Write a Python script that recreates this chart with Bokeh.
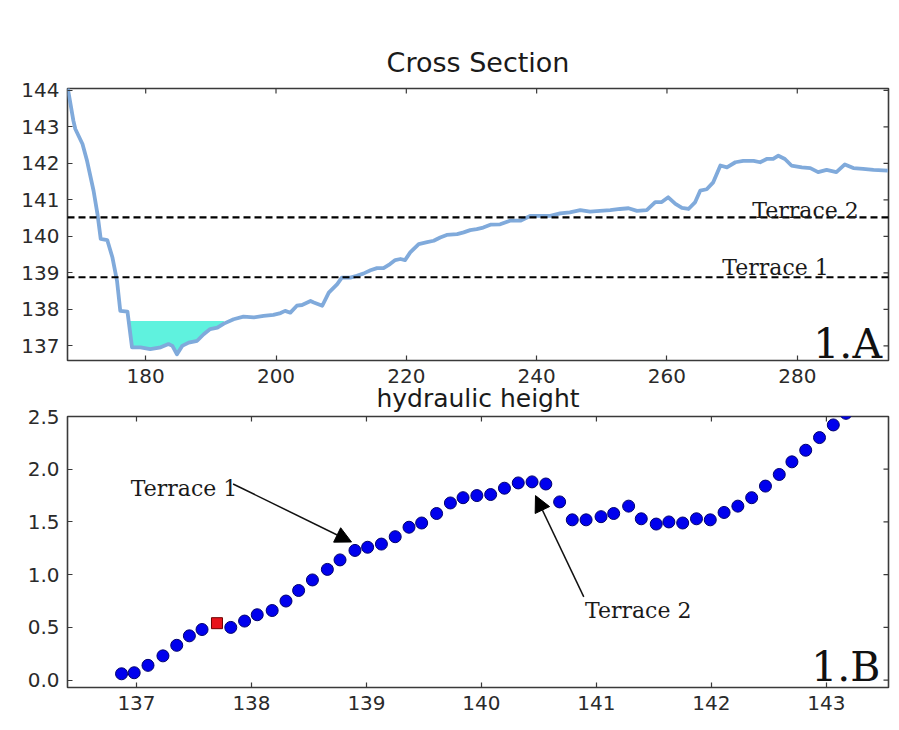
from bokeh.plotting import figure
from bokeh.models import (Range1d, FixedTicker, Span, Label, Arrow,
                          NormalHead, PrintfTickFormatter)
from bokeh.layouts import column
from bokeh.embed import file_html
from bokeh.resources import INLINE
import numpy as np

# ---------------- data ----------------
# Cross section profile (distance, elevation)
cs_x = [168.0, 168.9, 169.2, 170.3, 171.0, 172.0, 172.6, 173.1, 174.1, 174.9, 175.6, 176.1,
        177.2, 177.9, 179.2, 180.7, 182.3, 183.5, 184.1, 184.8, 185.6, 186.6, 187.9, 188.9,
        189.9, 191.0, 192.0, 193.5, 195.0, 196.6, 198.1, 199.6, 200.7, 201.4, 202.2, 203.2,
        204.0, 205.3, 205.8, 207.1, 208.1, 209.4, 210.1, 211.4, 212.4, 213.4, 214.5, 215.5,
        216.5, 217.5, 218.3, 219.1, 219.8, 220.6, 221.9, 223.2, 224.2, 225.2, 226.2, 227.8,
        228.8, 229.8, 230.8, 231.8, 232.9, 234.4, 235.9, 237.5, 239.0, 240.5, 242.1, 243.6,
        245.1, 246.7, 248.2, 249.7, 251.3, 252.8, 254.1, 255.4, 256.9, 258.2, 259.2, 260.2,
        261.3, 262.3, 263.3, 264.3, 265.1, 266.1, 267.1, 268.2, 269.2, 270.5, 271.7, 273.3,
        274.3, 275.3, 276.3, 277.1, 278.1, 279.1, 280.7, 282.0, 283.2, 284.5, 286.0, 287.3,
        288.6, 290.1, 291.7, 293.9]
cs_y = [144.10, 143.17, 142.94, 142.53, 142.07, 141.25, 140.61, 139.93, 139.90, 139.42, 138.78, 137.96,
        137.94, 136.96, 136.96, 136.91, 136.96, 137.05, 137.00, 136.77, 137.00, 137.09, 137.14, 137.32,
        137.46, 137.50, 137.61, 137.73, 137.80, 137.78, 137.82, 137.85, 137.90, 137.96, 137.91, 138.10,
        138.12, 138.23, 138.19, 138.10, 138.46, 138.69, 138.87, 138.87, 138.92, 138.98, 139.07, 139.13,
        139.13, 139.24, 139.35, 139.38, 139.35, 139.56, 139.79, 139.84, 139.88, 139.97, 140.04, 140.06,
        140.11, 140.17, 140.20, 140.24, 140.32, 140.33, 140.43, 140.43, 140.56, 140.56, 140.56, 140.63,
        140.66, 140.72, 140.68, 140.70, 140.72, 140.75, 140.77, 140.70, 140.72, 140.94, 140.94, 141.07,
        140.89, 140.78, 140.75, 140.93, 141.25, 141.29, 141.48, 141.94, 141.89, 142.03, 142.07, 142.07,
        142.03, 142.12, 142.12, 142.21, 142.12, 141.94, 141.89, 141.87, 141.76, 141.82, 141.76, 141.97,
        141.87, 141.85, 141.82, 141.80]
water_level = 137.68
water_x_min, water_x_max = 177.0, 193.0
terrace_levels = [138.88, 140.52]
terrace_names = ["Terrace 1", "Terrace 2"]
terrace_label_x = [268.5, 273.1]
terrace_label_y = [139.15, 140.70]

# Hydraulic height vs water level
hh_x = [136.87, 136.98, 137.10, 137.23, 137.35, 137.46, 137.57, 137.82, 137.94, 138.05, 138.18,
        138.30, 138.41, 138.53, 138.66, 138.77, 138.90, 139.01, 139.13, 139.25, 139.37, 139.48,
        139.61, 139.73, 139.84, 139.96, 140.08, 140.20, 140.32, 140.44, 140.56, 140.68, 140.79,
        140.91, 141.04, 141.15, 141.28, 141.39, 141.52, 141.63, 141.75, 141.87, 141.99, 142.11,
        142.23, 142.35, 142.47, 142.59, 142.70, 142.82, 142.94, 143.06, 143.17]
hh_y = [0.06, 0.07, 0.14, 0.23, 0.33, 0.42, 0.48, 0.50, 0.56, 0.62, 0.66,
        0.75, 0.85, 0.95, 1.05, 1.14, 1.23, 1.26, 1.29, 1.36, 1.45, 1.49,
        1.58, 1.68, 1.73, 1.75, 1.76, 1.82, 1.87, 1.88, 1.86, 1.69, 1.52,
        1.52, 1.55, 1.58, 1.65, 1.53, 1.48, 1.50, 1.49, 1.53, 1.52, 1.59,
        1.65, 1.73, 1.84, 1.95, 2.07, 2.18, 2.30, 2.42, 2.53]
current_x = [137.70]
current_y = [0.54]

# annotations in the lower panel: (text x, text y, arrow start x, y, arrow tip x, y)
ann1 = dict(text="Terrace 1", tx=136.95, ty=1.82, x0=137.84, y0=1.86, x1=138.87, y1=1.31)
ann2 = dict(text="Terrace 2", tx=140.90, ty=0.66, x0=140.89, y0=0.79, x1=140.47, y1=1.75)

# ticks
top_xticks = [180, 200, 220, 240, 260, 280]
top_yticks = [137, 138, 139, 140, 141, 142, 143, 144]
bot_xticks = [137, 138, 139, 140, 141, 142, 143]
bot_yticks = [0.0, 0.5, 1.0, 1.5, 2.0, 2.5]

SANS = "DejaVu Sans"
SERIF = "DejaVu Serif"
TICK_COLOR = "#3a3a3a"
W = 897


def style_axes(p, xticks, yticks, xr, yr, yfmt=None):
    for ax in p.axis:
        ax.major_tick_in = 5
        ax.major_tick_out = 0
        ax.minor_tick_line_color = None
        ax.major_tick_line_color = TICK_COLOR
        ax.major_tick_line_width = 1.2
        ax.axis_line_color = None
        ax.major_label_text_font = SANS
        ax.major_label_text_font_size = "20px"
        ax.major_label_text_color = "#2a2a2a"
        ax.major_label_standoff = 8
    p.xaxis.ticker = FixedTicker(ticks=xticks)
    p.yaxis.ticker = FixedTicker(ticks=yticks)
    if yfmt:
        p.yaxis.formatter = PrintfTickFormatter(format=yfmt)
    # mirrored inward ticks on the top and right edges of the frame
    p.ray(x=xticks, y=[yr[1]] * len(xticks), length=5, length_units="screen",
          angle=-np.pi / 2, line_color=TICK_COLOR, line_width=1.2)
    p.ray(x=[xr[1]] * len(yticks), y=yticks, length=5, length_units="screen",
          angle=np.pi, line_color=TICK_COLOR, line_width=1.2)
    p.outline_line_color = "#3a3a3a"
    p.outline_line_width = 1.6
    p.grid.visible = False


# ---------------- top: cross section ----------------
top_xr = (168, 294)
top_yr = (136.6, 144.05)
p1 = figure(width=W, height=392, output_backend="svg", toolbar_location=None,
            x_range=Range1d(*top_xr), y_range=Range1d(*top_yr),
            min_border_left=67, min_border_right=9, min_border_top=88, min_border_bottom=32,
            title="Cross Section")
p1.title.text_font = SANS
p1.title.text_font_size = "27px"
p1.title.text_font_style = "normal"
p1.title.text_color = "#1a1a1a"
p1.title.align = "center"
p1.title.standoff = 21
style_axes(p1, top_xticks, top_yticks, top_xr, top_yr)

cx = np.array(cs_x)
cy = np.array(cs_y)
mask = (cx >= water_x_min) & (cx <= water_x_max)
p1.varea(x=cx[mask], y1=np.minimum(cy[mask], water_level), y2=water_level,
         fill_color="#5ff2de", fill_alpha=1.0)
p1.line(cs_x, cs_y, line_color="#80aadb", line_width=3.8, line_join="round")

for lvl, name, lx, ly in zip(terrace_levels, terrace_names, terrace_label_x, terrace_label_y):
    p1.add_layout(Span(location=lvl, dimension="width", line_color="black",
                       line_dash="7 4", line_width=2.2))
    p1.add_layout(Label(x=lx, y=ly, text=name, text_font=SERIF, text_font_size="22px",
                        text_color="#1a1a1a", text_baseline="alphabetic"))
p1.add_layout(Label(x=293.0, y=137.06, text="1.A", text_font=SERIF, text_font_size="41px",
                    text_color="#111111", text_align="right", text_baseline="alphabetic"))

# ---------------- bottom: hydraulic height ----------------
bot_xr = (136.4, 143.54)
bot_yr = (-0.07, 2.5)
p2 = figure(width=W, height=343, output_backend="svg", toolbar_location=None,
            x_range=Range1d(*bot_xr), y_range=Range1d(*bot_yr),
            min_border_left=67, min_border_right=9, min_border_top=40, min_border_bottom=32,
            title="hydraulic height")
p2.margin = (-16, 0, 0, 0)
p2.border_fill_alpha = 0
p2.title.text_font = SANS
p2.title.text_font_size = "25px"
p2.title.text_font_style = "normal"
p2.title.text_color = "#1a1a1a"
p2.title.align = "center"
p2.title.standoff = 8
style_axes(p2, bot_xticks, bot_yticks, bot_xr, bot_yr, yfmt="%.1f")

p2.scatter(hh_x, hh_y, size=12, marker="circle", fill_color="#0000ee",
           line_color="#00006e", line_width=1)
p2.scatter(current_x, current_y, size=11, marker="square", fill_color="#e8141b",
           line_color="#6e0000", line_width=1)

for a in (ann1, ann2):
    p2.add_layout(Label(x=a["tx"], y=a["ty"], text=a["text"], text_font=SERIF,
                        text_font_size="22px", text_color="#1a1a1a",
                        text_baseline="alphabetic"))
    p2.add_layout(Arrow(x_start=a["x0"], y_start=a["y0"], x_end=a["x1"], y_end=a["y1"],
                        line_color="#111111", line_width=1.5,
                        end=NormalHead(size=16, fill_color="black", line_color="black")))
p2.add_layout(Label(x=143.47, y=0.12, text="1.B", text_font=SERIF, text_font_size="41px",
                    text_color="#111111", text_align="right", text_baseline="alphabetic"))

layout = column(p1, p2)

open("out.html", "w").write(file_html(layout, INLINE))
